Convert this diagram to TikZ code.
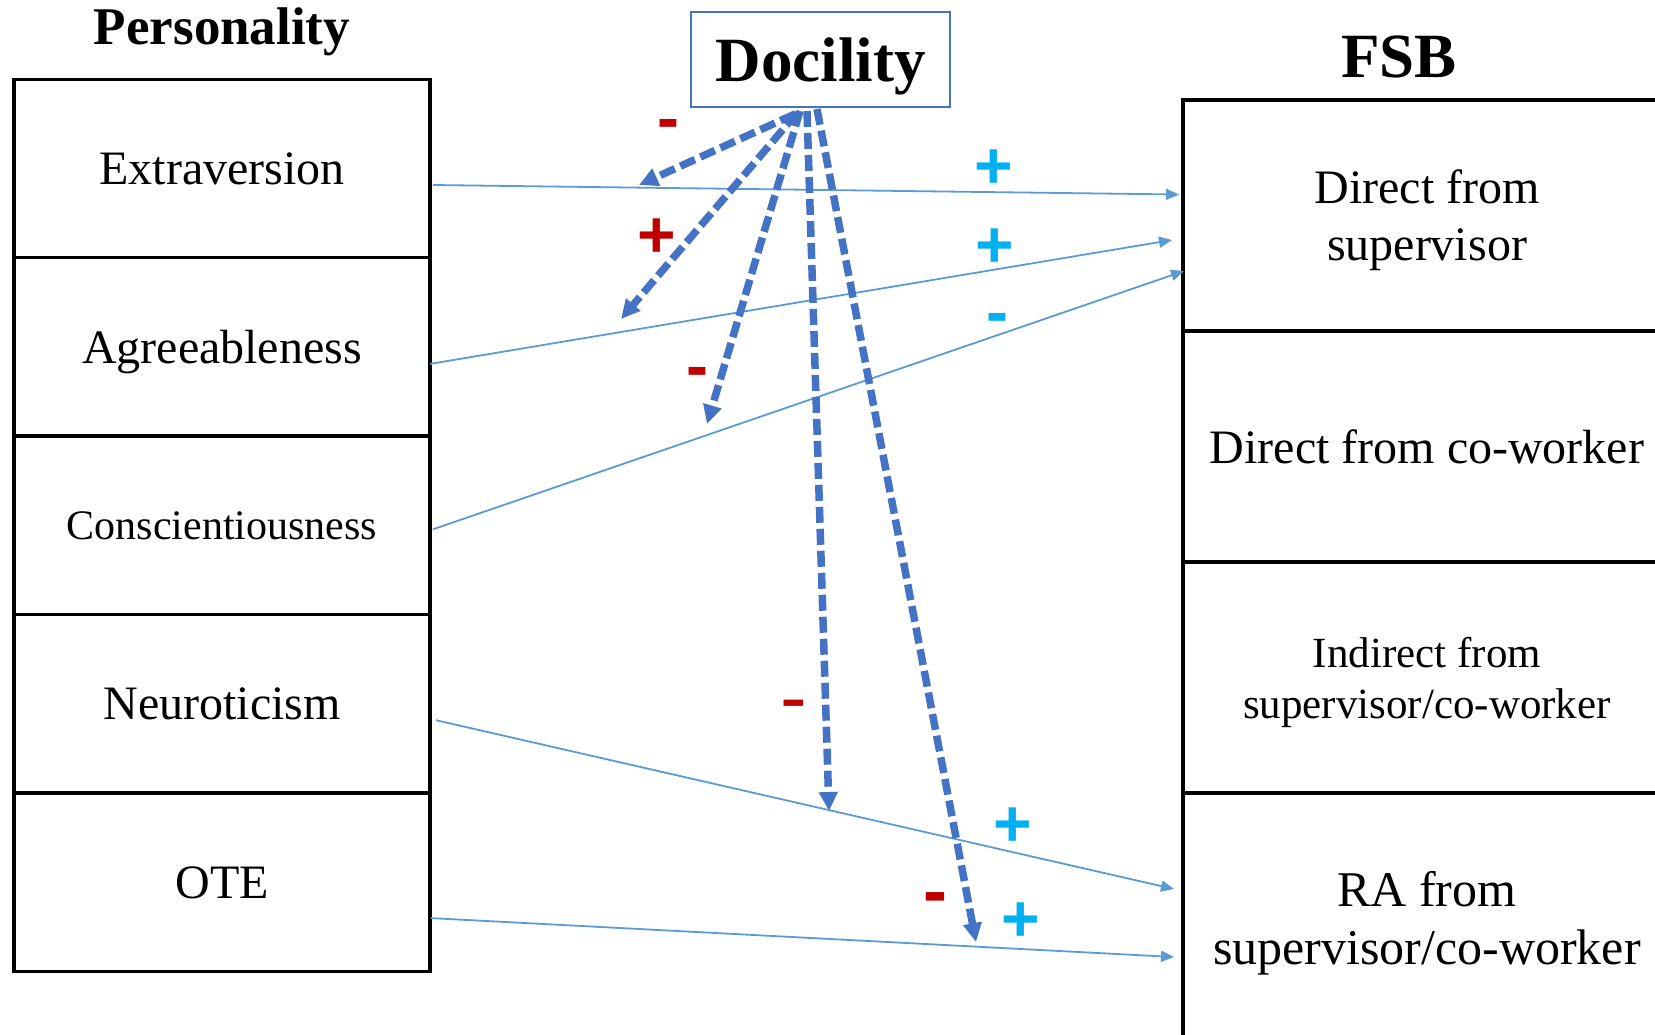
\documentclass[tikz,border=0pt]{standalone}
\usepackage{fontspec}
\setmainfont{Liberation Serif}
\newfontfamily\signfont{Liberation Sans}
\usepackage{tikz}
\usetikzlibrary{arrows.meta, positioning}

\definecolor{lineblue}{HTML}{5B9BD5}
\definecolor{dashblue}{HTML}{4472C4}
\definecolor{signred}{HTML}{C00000}
\definecolor{signcyan}{HTML}{00B0F0}

\begin{document}
\begin{tikzpicture}[
            x=1pt, y=-1pt,
            node distance=0pt,
            trait/.style    ={rectangle, draw=black, line width=3.5pt, outer sep=0pt, inner sep=0pt,
                              minimum width=416pt, minimum height=178.4pt, align=center, text depth=0pt,
                              font=\fontsize{48}{57}\selectfont},
            fsb/.style      ={rectangle, draw=black, line width=3.5pt, outer sep=0pt, inner sep=0pt,
                              minimum width=488pt, minimum height=231pt, align=center, text depth=0pt,
                              font=\fontsize{48}{57}\selectfont},
            header/.style   ={inner sep=0pt, font=\bfseries\fontsize{53}{60}\selectfont},
            docbox/.style   ={rectangle, draw=dashblue, line width=2pt, inner sep=0pt, text depth=0pt,
                              minimum width=259pt, minimum height=95pt,
                              font=\bfseries\fontsize{63}{70}\selectfont},
            arrow/.style    ={-{Triangle[length=13pt, width=11pt]}, draw=lineblue, line width=1.8pt},
            moderate/.style ={-{Triangle[length=19pt, width=18pt]}, draw=dashblue, line width=7.5pt,
                              dash pattern=on 16pt off 6pt},
            plussign/.style ={inner sep=0pt, anchor=base, yshift=-23pt,
                              font=\signfont\bfseries\fontsize{66}{66}\selectfont},
            minussign/.style={inner sep=0pt, anchor=base, yshift=-19pt,
                              font=\signfont\bfseries\fontsize{66}{66}\selectfont}
        ]
        \useasboundingbox (0,0) rectangle (1655,1034);
        \clip (0,0) rectangle (1655,1034);

        % personality column
        \node[header] (perstitle) at (222,32) {Personality};
        \node[trait] (ext) at (222,168.5) {Extraversion};
        \node[trait, below=of ext] (agr) {Agreeableness};
        \node[trait, below=of agr] (con) {\fontsize{42}{50}\selectfont Conscientiousness};
        \node[trait, below=of con] (neu) {Neuroticism};
        \node[trait, below=of neu] (ote) {OTE};

        % FSB column
        \node[header, font=\bfseries\fontsize{63}{70}\selectfont] (fsbtitle) at (1399,57) {FSB};
        \node[fsb] (dsup) at (1427,215.5) {Direct from\\supervisor};
        \node[fsb, below=of dsup] (dcow) {Direct from co-worker};
        \node[fsb, below=of dcow, font=\fontsize{43}{51}\selectfont] (ind) {Indirect from\\supervisor/co-worker};
        \node[fsb, below=of ind, minimum height=250pt, font=\fontsize{50}{58}\selectfont] (ra) {RA from\\supervisor/co-worker};

        \node[docbox] (doc) at (820.5,59.5) {Docility};

        % direct effects
        \draw[arrow] ([xshift=3pt, yshift=-16.5pt]ext.east) -- ([xshift=-4pt, yshift=21pt]dsup.west);
        \draw[arrow] ([yshift=-17pt]agr.east)               -- ([xshift=-11pt, yshift=-24.5pt]dsup.west);
        \draw[arrow] ([xshift=3pt, yshift=-4pt]con.east)    -- ([xshift=1pt, yshift=-55.5pt]dsup.west);
        \draw[arrow] ([xshift=6pt, yshift=-16.5pt]neu.east) -- ([xshift=-9pt, yshift=29pt]ra.west);
        \draw[arrow] ([xshift=1pt, yshift=-36pt]ote.east)   -- ([xshift=-9pt, yshift=-39pt]ra.west);

        % moderation by docility
        \coordinate (tExt) at (639,185);
        \coordinate (tAgr) at (621,319);
        \coordinate (tCon) at (707,424);
        \coordinate (tNeu) at (829,811);
        \coordinate (tOte) at (976,942);
        \draw[moderate] ([xshift=-25.5pt, yshift=-6pt]doc.south) -- (tExt);
        \draw[moderate] ([xshift=-23.5pt, yshift=-5pt]doc.south) -- (tAgr);
        \draw[moderate] ([xshift=-20.5pt, yshift=-3pt]doc.south) -- (tCon);
        \draw[moderate] ([xshift=-13.5pt, yshift=-3pt]doc.south) -- (tNeu);
        \draw[moderate] ([xshift=-3.5pt, yshift=-1pt]doc.south)  -- (tOte);

        % signs
        \node[minussign, text=signred] (sExt) at (668,121) {-};
        \node[plussign, text=signred]  (sAgr) at (657,234) {+};
        \node[minussign, text=signred] (sCon) at (697,369) {-};
        \node[minussign, text=signred, font=\signfont\fontsize{80}{80}\selectfont, yshift=-3pt] (sNeu) at (794,702) {-};
        \node[minussign, text=signred, font=\signfont\bfseries\fontsize{72}{72}\selectfont, yshift=-2pt] (sOte) at (935,894) {-};

        \node[plussign, text=signcyan]  (dExt) at (994,165) {+};
        \node[plussign, text=signcyan]  (dAgr) at (995,244) {+};
        \node[minussign, text=signcyan] (dCon) at (997,315) {-};
        \node[plussign, text=signcyan]  (dNeu) at (1013,823) {+};
        \node[plussign, text=signcyan]  (dOte) at (1021,918) {+};
        \end{tikzpicture}
\end{document}
